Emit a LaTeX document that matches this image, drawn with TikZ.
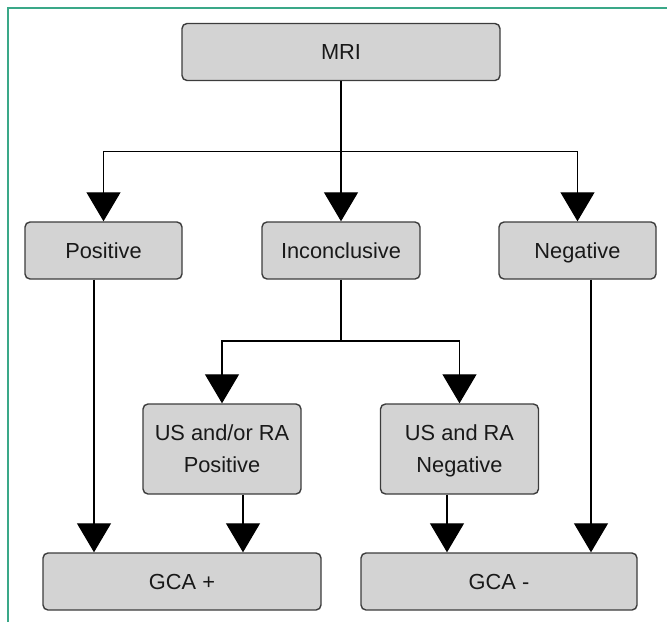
\documentclass[tikz,border=0pt]{standalone}
\usepackage{fontspec}
\setmainfont{Liberation Sans}
\usetikzlibrary{arrows.meta}
\definecolor{frameg}{RGB}{58,168,136}
\definecolor{boxfill}{RGB}{211,211,211}
\definecolor{boxline}{RGB}{60,60,60}
\definecolor{txt}{RGB}{25,25,25}
\tikzset{
  box/.style={draw=boxline, fill=boxfill, line width=1.4pt, rounded corners=5pt,
    inner sep=0pt, align=center, text=txt,
    font=\fontsize{21.8pt}{31.7pt}\selectfont},
  onebox/.style={box, text height=15.7pt, text depth=0pt},
  arr/.style={draw=black, line width=1.15pt, -{Triangle[length=29pt,width=34pt]}},
  ln/.style={draw=black, line width=1.15pt},
}
\begin{document}
\begin{tikzpicture}[x=1pt,y=-1pt]
\useasboundingbox (0,0) rectangle (667,622);
\draw[frameg, line width=2pt] (7.5,622) -- (7.5,7.5) -- (667,7.5);

\node[onebox, minimum width=318pt, minimum height=57pt] (mri) at (341,52) {MRI};
\node[onebox, minimum width=157pt, minimum height=57pt] (pos) at (103.5,250.5) {Positive};
\node[onebox, minimum width=158pt, minimum height=57pt] (inc) at (341,250.5) {Inconclusive};
\node[onebox, minimum width=157pt, minimum height=57pt] (neg) at (577.5,250.5) {Negative};
\node[box, minimum width=158pt, minimum height=90pt] (uspos) at (222,449) {US and/or RA\\Positive};
\node[box, minimum width=158pt, minimum height=90pt] (usneg) at (459.5,449) {US and RA\\Ne\smash{g}ative};
\node[onebox, minimum width=278pt, minimum height=57pt] (gcap) at (182,581.5) {GCA +};
\node[onebox, minimum width=276pt, minimum height=57pt] (gcam) at (499,581.5) {GCA -};

\coordinate (b1) at (341,151.3);
\coordinate (b2) at (341,341);

\draw[arr] (mri) -- (inc);
\draw[arr] (b1) -| (pos.north);
\draw[arr] (b1) -| (neg.north);

\draw[ln] (inc.south) -- (b2);
\draw[arr] (b2) -| (uspos.north);
\draw[arr] (b2) -| (usneg.north);

\draw[arr] ([xshift=-9.5pt]pos.south) -- ([xshift=-9.5pt]pos.south |- gcap.north);
\draw[arr] ([xshift=21pt]uspos.south) -- ([xshift=21pt]uspos.south |- gcap.north);
\draw[arr] ([xshift=-12.5pt]usneg.south) -- ([xshift=-12.5pt]usneg.south |- gcam.north);
\draw[arr] ([xshift=13.5pt]neg.south) -- ([xshift=13.5pt]neg.south |- gcam.north);
\end{tikzpicture}
\end{document}
